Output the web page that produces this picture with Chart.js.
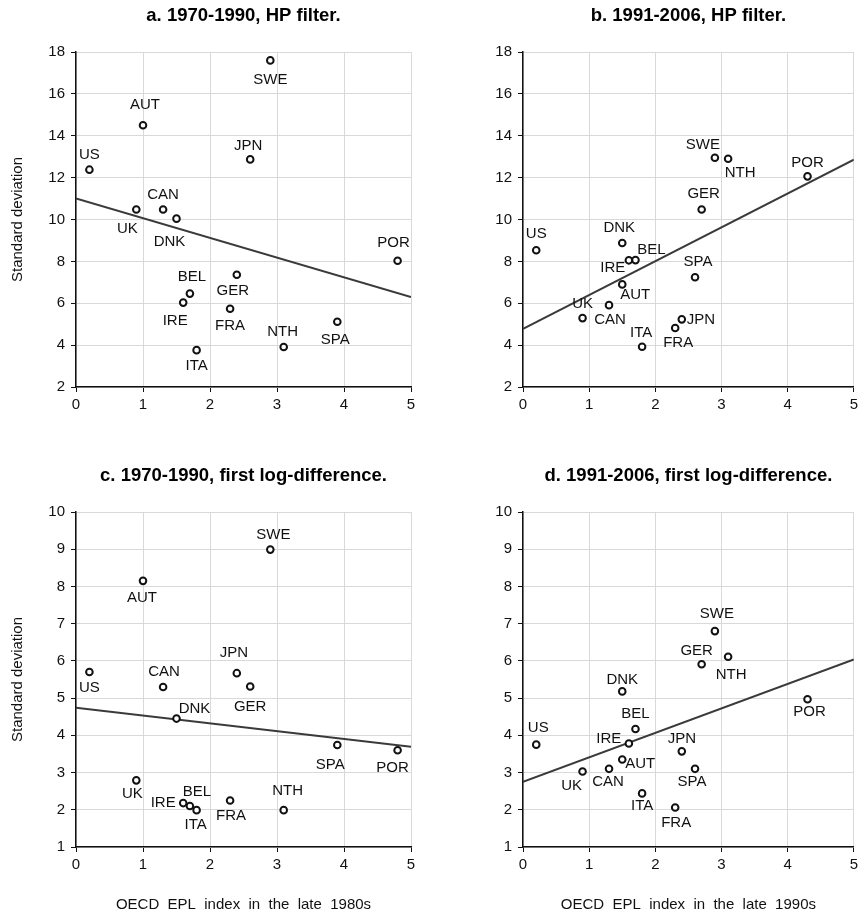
<!DOCTYPE html>
<html><head><meta charset="utf-8">
<script src="https://cdn.jsdelivr.net/npm/chart.js@4/dist/chart.umd.min.js"></script>
<style>
html,body{margin:0;padding:0;background:#fff;}
#wrap{position:relative;width:862px;height:918px;overflow:hidden;}
canvas{position:absolute;display:block;}
</style></head><body>
<div id="wrap">
<canvas id="ca" width="431" height="440" style="left:0;top:0;width:431px;height:440px"></canvas>
<canvas id="cb" width="431" height="440" style="left:431px;top:0;width:431px;height:440px"></canvas>
<canvas id="cc" width="431" height="478" style="left:0;top:440px;width:431px;height:478px"></canvas>
<canvas id="cd" width="431" height="478" style="left:431px;top:440px;width:431px;height:478px"></canvas>
</div>
<script>
// ---- DATA ----
const countries = ['US','AUT','SWE','JPN','UK','CAN','DNK','POR','BEL','GER','IRE','FRA','SPA','NTH','ITA'];
// Panel a: 1970-1990, HP filter
const eplA = [0.2, 1.0, 2.9, 2.6, 0.9, 1.3, 1.5, 4.8, 1.7, 2.4, 1.6, 2.3, 3.9, 3.1, 1.8];
const sdA  = [12.38, 14.50, 17.60, 12.87, 10.48, 10.48, 10.04, 8.03, 6.46, 7.36, 6.03, 5.74, 5.12, 3.91, 3.76];
const fitA = [11.0, 6.3];
// Panel b: 1991-2006, HP filter
const eplB = [0.2, 1.5, 2.9, 2.4, 0.9, 1.3, 1.5, 4.3, 1.7, 2.7, 1.6, 2.3, 2.6, 3.1, 1.8];
const sdB  = [8.53, 6.90, 12.95, 5.23, 5.29, 5.91, 8.88, 12.06, 8.06, 10.48, 8.05, 4.82, 7.24, 12.90, 3.92];
const fitB = [4.78, 12.86];
// Panel c: 1970-1990, first log-difference
const eplC = [0.2, 1.0, 2.9, 2.4, 0.9, 1.3, 1.5, 4.8, 1.7, 2.6, 1.6, 2.3, 3.9, 3.1, 1.8];
const sdC  = [5.70, 8.15, 8.99, 5.67, 2.79, 5.30, 4.45, 3.60, 2.10, 5.31, 2.18, 2.25, 3.74, 1.99, 1.99];
const fitC = [4.74, 3.69];
// Panel d: 1991-2006, first log-difference
const eplD = [0.2, 1.5, 2.9, 2.4, 0.9, 1.3, 1.5, 4.3, 1.7, 2.7, 1.6, 2.3, 2.6, 3.1, 1.8];
const sdD  = [3.75, 3.35, 6.80, 3.57, 3.03, 3.10, 5.18, 4.97, 4.17, 5.91, 3.78, 2.06, 3.10, 6.11, 2.44];
const fitD = [2.75, 6.04];
const fitX = [0, 5];
const ticksHP = [2, 18, 2];
const ticksLD = [1, 10, 1];

// ---- LABEL PLACEMENT (pixel offsets of each country label from its marker) ----
const offA = [[0,-15],[2,-20],[0,19],[-2,-14],[-9,19],[0,-15],[-7,23],[-4,-18],[2,-17],[-4,16],[-8,18],[0,17],[-2,18],[-1,-15],[0,16]];
const offB = [[0,-16],[13,10],[-12,-13],[19,0],[0,-14],[1,15],[-3,-15],[0,-14],[16,-10],[2,-16],[-16,8],[3,15],[3,-15],[12,14],[-1,-14]];
const offC = [[0,16],[-1,17],[3,-15],[-3,-20],[-4,13],[1,-15],[18,-10],[-5,18],[7,-14],[0,20],[-20,0],[1,15],[-7,20],[4,-19],[-1,15]];
const offD = [[2,-17],[18,4],[2,-17],[0,-12],[-11,14],[-1,13],[0,-12],[2,13],[0,-15],[-5,-13],[-20,-5],[1,15],[-3,13],[3,18],[0,12]];

const FONT = '"Liberation Sans", Arial, Helvetica, sans-serif';

const labelPlugin = {
  id: 'ptLabels',
  afterDatasetsDraw(chart, args, opts) {
    const meta = chart.getDatasetMeta(0);
    const ctx = chart.ctx;
    ctx.save();
    ctx.font = '15px ' + FONT;
    ctx.fillStyle = '#111';
    ctx.textAlign = 'center';
    ctx.textBaseline = 'middle';
    meta.data.forEach((el, i) => {
      const o = opts.offsets[i];
      ctx.fillText(opts.labels[i], el.x + o[0], el.y + o[1]);
    });
    ctx.restore();
  }
};

function makePanel(id, cfg) {
  const pts = cfg.xs.map((x, i) => ({x: x, y: cfg.ys[i]}));
  const line = fitX.map((x, i) => ({x: x, y: cfg.fit[i]}));
  new Chart(document.getElementById(id), {
    type: 'scatter',
    data: {
      datasets: [
        {
          type: 'scatter', data: pts, order: 1,
          pointRadius: 3.3, pointBorderWidth: 2,
          pointBorderColor: '#111', pointBackgroundColor: '#fff'
        },
        {
          type: 'line', data: line, order: 2,
          borderColor: '#3a3a3a', borderWidth: 2, pointRadius: 0, fill: false, tension: 0
        }
      ]
    },
    options: {
      responsive: false,
      animation: false,
      devicePixelRatio: 1,
      layout: {padding: {left: 0, right: cfg.padRight, top: 0, bottom: 0}},
      plugins: {
        legend: {display: false},
        tooltip: {enabled: false},
        title: {
          display: true, text: cfg.title, fullSize: false, color: '#000',
          font: {family: FONT, size: 18.5, weight: 'bold', lineHeight: 1.2},
          padding: cfg.titlePad
        },
        ptLabels: {labels: countries, offsets: cfg.offsets}
      },
      scales: {
        x: {
          type: 'linear', min: 0, max: 5,
          afterFit: s => { s.height = cfg.xH; },
          ticks: {stepSize: 1, color: '#111', padding: 4, font: {family: FONT, size: 15}, maxRotation: 0},
          grid: {color: '#d9d9d9', lineWidth: 1, tickColor: '#111', tickLength: 5},
          border: {display: true, color: '#111', width: 1.5},
          title: {display: !!cfg.xTitle, text: cfg.xTitle || '', color: '#111',
                  font: {family: FONT, size: 15}, padding: {top: 0, bottom: 4}}
        },
        y: {
          type: 'linear', min: cfg.yt[0], max: cfg.yt[1],
          afterFit: s => { s.width = cfg.yW; },
          ticks: {stepSize: cfg.yt[2], color: '#111', padding: 6, font: {family: FONT, size: 15}},
          grid: {color: '#d9d9d9', lineWidth: 1, tickColor: '#111', tickLength: 5},
          border: {display: true, color: '#111', width: 1.5},
          title: {display: cfg.yTitle, text: 'Standard deviation', color: '#111',
                  font: {family: FONT, size: 15}, padding: {top: 9, bottom: 0}}
        }
      }
    },
    plugins: [labelPlugin]
  });
}

makePanel('ca', {title: 'a. 1970-1990, HP filter.', xs: eplA, ys: sdA, fit: fitA, yt: ticksHP,
  offsets: offA, yTitle: true, xTitle: null, yW: 76, xH: 53, padRight: 20, titlePad: {top: 4.9, bottom: 24.9}});
makePanel('cb', {title: 'b. 1991-2006, HP filter.', xs: eplB, ys: sdB, fit: fitB, yt: ticksHP,
  offsets: offB, yTitle: false, xTitle: null, yW: 92, xH: 53, padRight: 4, titlePad: {top: 4.9, bottom: 24.9}});
makePanel('cc', {title: 'c. 1970-1990, first log-difference.', xs: eplC, ys: sdC, fit: fitC, yt: ticksLD,
  offsets: offC, yTitle: true, xTitle: 'OECD  EPL  index  in  the  late  1980s', yW: 76, xH: 71, padRight: 20, titlePad: {top: 24.9, bottom: 24.9}});
makePanel('cd', {title: 'd. 1991-2006, first log-difference.', xs: eplD, ys: sdD, fit: fitD, yt: ticksLD,
  offsets: offD, yTitle: false, xTitle: 'OECD  EPL  index  in  the  late  1990s', yW: 92, xH: 71, padRight: 4, titlePad: {top: 24.9, bottom: 24.9}});
</script>
</body></html>
